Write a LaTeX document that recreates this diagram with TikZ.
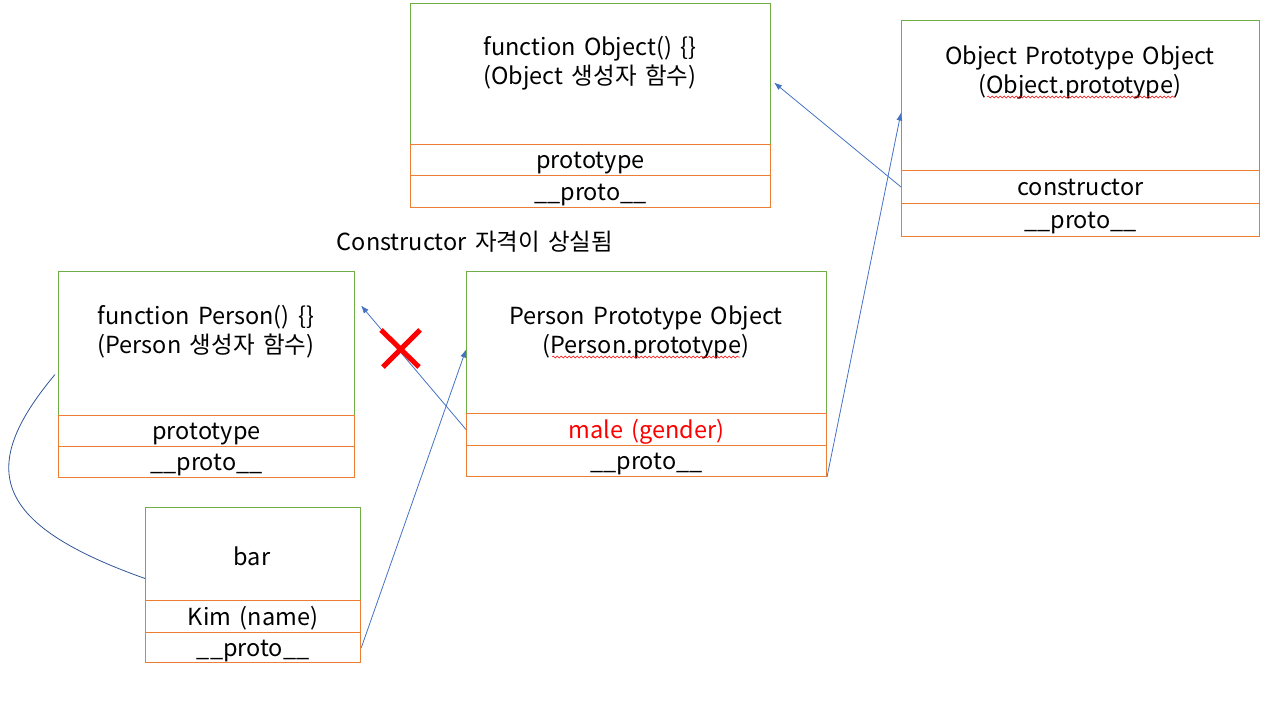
\documentclass[tikz,border=0pt]{standalone}
\usepackage{fontspec}
\setmainfont{Noto Sans CJK KR}[WordSpace=1.6]
\usetikzlibrary{arrows.meta,decorations.pathmorphing,calc}
\definecolor{grn}{HTML}{70AD47}
\definecolor{org}{HTML}{ED7D31}
\definecolor{blu}{HTML}{4472C4}
\definecolor{dblu}{HTML}{2F5597}
\begin{document}
\begin{tikzpicture}[x=1pt,y=-1pt,
  font=\fontsize{23.5}{29}\selectfont,
  gbox/.style={draw=grn, line width=1pt, rectangle, inner sep=0pt, anchor=north west},
  obox/.style={draw=org, line width=1pt, rectangle, inner sep=0pt, anchor=north west, text height=19pt, text depth=2pt},
  ttl/.style={align=center, inner sep=0pt},
  arr/.style={draw=blu, line width=0.8pt, -{Latex[length=8pt,width=6pt]}},
  wavy/.style={draw=red, line width=0.5pt, decorate, decoration={snake, amplitude=1pt, segment length=4pt}},
  xmark/.style={draw=red, line width=5pt}]
\useasboundingbox (0,0) rectangle (1281,723);

% Object constructor
\node[gbox, minimum width=360pt, minimum height=141pt] (obj) at (410,3) {};
\node[obox, minimum width=360pt, minimum height=31pt] (objp) at (410,144) {prototype};
\node[obox, minimum width=360pt, minimum height=32pt] (objr) at (410,175) {\_\_proto\_\_};
\node[ttl] (objt) at (590,63) {function Object() \{\}\\(Object 생성자 함수)};

% Object prototype object
\node[gbox, minimum width=358pt, minimum height=150pt] (op) at (901,20) {};
\node[obox, minimum width=358pt, minimum height=33pt] (opc) at (901,170) {constructor};
\node[obox, minimum width=358pt, minimum height=33pt] (opr) at (901,203) {\_\_proto\_\_};
\node[ttl] (opt) at (1080,72.5) {Object Prototype Object\\(Object.prototype)};
\draw[wavy] (987,97) -- (1175,97);

% label
\node (lbl) at (475,242) {Constructor 자격이 상실됨};

% Person constructor
\node[gbox, minimum width=296pt, minimum height=144pt] (per) at (58,271) {};
\node[obox, minimum width=296pt, minimum height=31pt] (perp) at (58,415) {prototype};
\node[obox, minimum width=296pt, minimum height=31pt] (perr) at (58,446) {\_\_proto\_\_};
\node[ttl] (pert) at (206,332) {function Person() \{\}\\(Person 생성자 함수)};

% Person prototype object
\node[gbox, minimum width=360pt, minimum height=142pt] (pp) at (466,271) {};
\node[obox, minimum width=360pt, minimum height=32pt, text=red] (ppm) at (466,413) {male (gender)};
\node[obox, minimum width=360pt, minimum height=31pt] (ppr) at (466,445) {\_\_proto\_\_};
\node[ttl] (ppt) at (646,332) {Person Prototype Object\\(Person.prototype)};
\draw[wavy] (552,357) -- (740,357);

% bar
\node[gbox, minimum width=215pt, minimum height=93pt] (bar) at (145,507) {};
\node[obox, minimum width=215pt, minimum height=32pt] (bark) at (145,600) {Kim (name)};
\node[obox, minimum width=215pt, minimum height=30pt, line width=1.3pt] (barr) at (145,632) {\_\_proto\_\_};
\node[ttl] (bart) at (252,556) {bar};

% connectors
\draw[arr] (opc.west) -- ([xshift=3pt,yshift=-8.5pt]obj.east);
\draw[arr] (ppr.south east) -- ([yshift=-17pt]op.west);
\draw[arr] (ppm.west) -- ([xshift=6pt,yshift=38pt]per.east);
\draw[arr] (barr.east) -- ([yshift=-7pt]pp.west);
\draw[draw=dblu, line width=0.8pt] ([xshift=-3pt,yshift=-31pt]per.west) .. controls (-25,470) and (-5,525) .. ([yshift=-24.5pt]bar.west);

% red cross
\draw[xmark] (381,330) -- (419,367) (420,330) -- (383,367);
\end{tikzpicture}
\end{document}
